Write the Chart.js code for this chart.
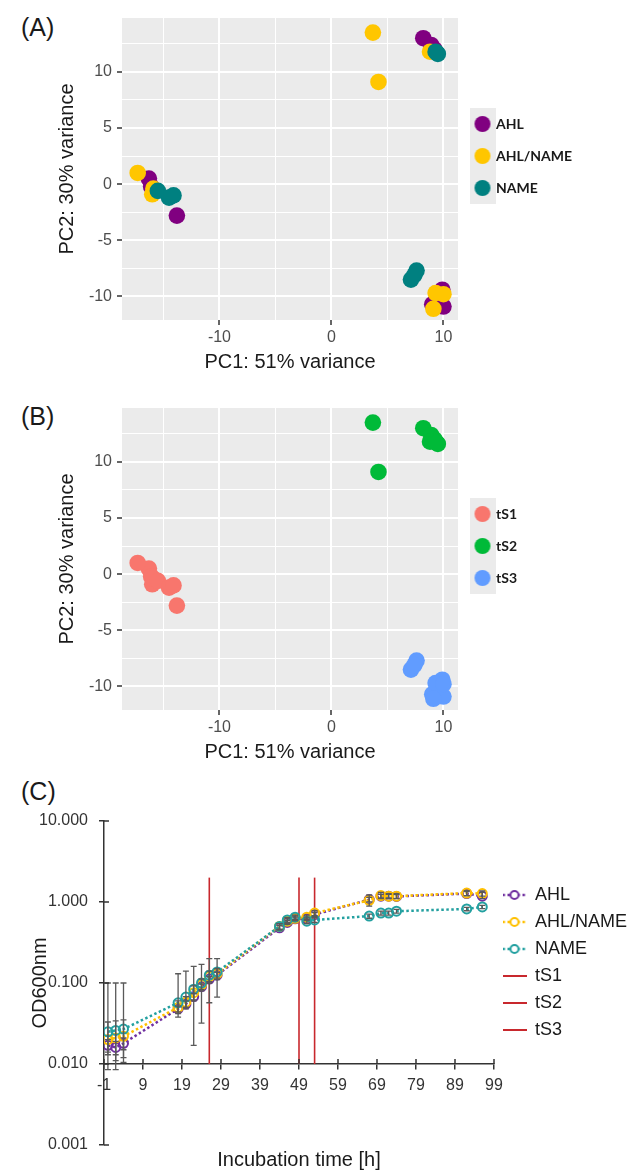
<!DOCTYPE html>
<html>
<head>
<meta charset="utf-8">
<title>PCA and growth curves</title>
<script src="https://cdn.jsdelivr.net/npm/chart.js@4.4.1/dist/chart.umd.min.js"></script>
<style>
  body { margin: 0; background: #fff; width: 632px; height: 1176px; position: relative; overflow: hidden; }
  canvas { position: absolute; left: 0; }
  .panel { position: absolute; left: 21px; font: 25px/25px "Liberation Sans", Arial, sans-serif; color: #1a1a1a; }
</style>
</head>
<body>
<div class="panel" style="top:15px">(A)</div>
<div class="panel" style="top:404px">(B)</div>
<div class="panel" style="top:779px">(C)</div>
<canvas id="pcaGroup" width="632" height="378" style="top:0"></canvas>
<canvas id="pcaStage" width="632" height="378" style="top:390px"></canvas>
<canvas id="growth" width="660" height="416" style="top:760px"></canvas>
<script>
// PCA scores, one entry per sample (3 replicates x tS1, tS2, tS3)
var pc1AHL  = [-16.3, -16.1, -13.8, 8.2, 8.9, 9.2, 9.9, 9.0, 10.0];
var pc2AHL  = [0.5, -0.2, -2.8, 13.0, 12.4, 12.0, -9.4, -10.7, -10.9];
var pc1MIX  = [-17.3, -16.0, -15.9, 3.7, 4.2, 8.8, 9.3, 10.0, 9.1];
var pc2MIX  = [1.0, -0.9, -0.4, 13.5, 9.1, 11.8, -9.7, -9.8, -11.1];
var pc1NAME = [-15.5, -14.5, -14.1, 9.5, 9.3, 9.4, 7.1, 7.6, 7.4];
var pc2NAME = [-0.6, -1.2, -1.0, 11.6, 11.8, 11.7, -8.5, -7.7, -8.1];
var sampleStage = ['tS1', 'tS1', 'tS1', 'tS2', 'tS2', 'tS2', 'tS3', 'tS3', 'tS3'];

var groups = ['AHL', 'AHL/NAME', 'NAME'];
var stages = ['tS1', 'tS2', 'tS3'];

var pcaXGrid = [-15, -10, -5, 0, 5, 10];
var pcaXLabels = [-10, 0, 10];
var pcaYGrid = [-10, -7.5, -5, -2.5, 0, 2.5, 5, 7.5, 10, 12.5];
var pcaYLabels = [-10, -5, 0, 5, 10];

// growth curves, OD600 per time point
var timeH   = [0, 2, 4, 18, 20, 22, 24, 26, 28, 44, 46, 48, 51, 53, 67, 70, 72, 74, 92, 96];
var odAHL   = [0.017, 0.016, 0.018, 0.048, 0.055, 0.068, 0.090, 0.112, 0.125, 0.48, 0.56, 0.62, 0.62, 0.70, 1.07, 1.18, 1.18, 1.17, 1.27, 1.18];
var loAHL   = [0.014, 0.013, 0.015, 0.044, 0.050, 0.062, 0.083, 0.104, 0.115, 0.45, 0.53, 0.59, 0.59, 0.66, 1.00, 1.12, 1.12, 1.11, 1.20, 1.10];
var hiAHL   = [0.020, 0.019, 0.021, 0.052, 0.060, 0.074, 0.097, 0.120, 0.135, 0.51, 0.59, 0.65, 0.65, 0.74, 1.14, 1.24, 1.24, 1.23, 1.34, 1.32];
var odMIX   = [0.020, 0.021, 0.022, 0.050, 0.058, 0.076, 0.095, 0.120, 0.130, 0.50, 0.58, 0.63, 0.65, 0.73, 1.05, 1.20, 1.18, 1.18, 1.29, 1.27];
var loMIX   = [0.013, 0.011, 0.012, 0.042, 0.050, 0.060, 0.080, 0.100, 0.110, 0.46, 0.54, 0.59, 0.61, 0.68, 0.89, 1.10, 1.10, 1.10, 1.20, 1.18];
var hiMIX   = [0.033, 0.034, 0.035, 0.060, 0.068, 0.092, 0.112, 0.140, 0.150, 0.54, 0.62, 0.67, 0.69, 0.78, 1.22, 1.31, 1.27, 1.27, 1.38, 1.37];
var odNAME  = [0.025, 0.026, 0.027, 0.057, 0.067, 0.084, 0.100, 0.125, 0.137, 0.50, 0.60, 0.65, 0.58, 0.60, 0.67, 0.73, 0.73, 0.77, 0.82, 0.87];
var loNAME  = [0.0085, 0.0085, 0.0105, 0.038, 0.048, 0.017, 0.032, 0.057, 0.067, 0.46, 0.56, 0.61, 0.54, 0.56, 0.63, 0.69, 0.69, 0.73, 0.78, 0.83];
var hiNAME  = [0.100, 0.100, 0.100, 0.130, 0.140, 0.160, 0.170, 0.200, 0.200, 0.54, 0.64, 0.69, 0.62, 0.64, 0.71, 0.77, 0.77, 0.81, 0.86, 0.91];

var stageTimes = [26, 49, 53];   // sampling points tS1..tS3
var stageLineTop = 2;
var xAxisAt = 0.01;              // x axis crosses the log axis here
var xTicksC = [-1, 9, 19, 29, 39, 49, 59, 69, 79, 89, 99];
var yTicksC = [0.001, 0.01, 0.1, 1, 10];

var groupColors = ['#800080', '#ffc600', '#008080'];
var stageColors = ['#f8766d', '#00ba38', '#619cff'];
var curveColors = ['#7030a0', '#ffc000', '#23a0a0'];

Chart.defaults.font.family = "'Liberation Sans', Arial, sans-serif";

// grey panel background behind the plotting area (ggplot look)
var panelBg = {
  id: 'panelBg',
  beforeDraw: function(chart, args, opts) {
    if (!opts.color) return;
    var a = chart.chartArea, ctx = chart.ctx;
    ctx.save();
    ctx.fillStyle = opts.color;
    ctx.fillRect(a.left, a.top, a.right - a.left, a.bottom - a.top);
    ctx.restore();
  }
};

function keyCanvas(w, h, draw) {
  var c = document.createElement('canvas');
  c.width = w; c.height = h;
  draw(c.getContext('2d'), w, h);
  return c;
}

function legendWidth(texts, font, boxW, pad) {
  var ctx = document.createElement('canvas').getContext('2d');
  ctx.font = (font.weight || 'normal') + ' ' + font.size + 'px ' + font.family;
  var w = Math.max.apply(null, texts.map(function(t) { return ctx.measureText(t).width; }));
  return pad + boxW + font.size / 2 + w + 10;
}

function withKeys(images) {
  return function(chart) {
    return Chart.defaults.plugins.legend.labels.generateLabels(chart).map(function(item) {
      item.pointStyle = images[item.datasetIndex];
      return item;
    });
  };
}

function byIndex(a, b) { return a.datasetIndex - b.datasetIndex; }

function isMajor(list) {
  return function(c) { return c.tick && list.indexOf(c.tick.value) >= 0; };
}

function pcaChart(id, datasets, colors) {
  var legendFont = { family: 'Lato', size: 14, weight: 'bold' };
  var legW = legendWidth(datasets.map(function(d) { return d.label; }), legendFont, 14, 17);
  var keys = colors.map(function(col) {
    return keyCanvas(26, 32, function(ctx, w, h) {
      ctx.fillStyle = '#ebebeb';
      ctx.fillRect(0, 0, w, h);
      ctx.fillStyle = col;
      ctx.beginPath(); ctx.arc(w / 2, h / 2, 8, 0, Math.PI * 2); ctx.fill();
    });
  });
  var xMajor = isMajor(pcaXLabels), yMajor = isMajor(pcaYLabels);

  return new Chart(document.getElementById(id), {
    type: 'scatter',
    data: { datasets: datasets },
    options: {
      responsive: false,
      animation: false,
      events: [],
      layout: { padding: { top: 18, left: 0, bottom: 0, right: 632 - 458 - legW } },
      elements: { point: { radius: 8.3, borderWidth: 0 } },
      plugins: {
        panelBg: { color: '#ebebeb' },
        tooltip: { enabled: false },
        legend: {
          position: 'right',
          align: 'start',
          fullSize: false,
          title: { display: true, text: '', font: { size: 10 }, padding: { top: 69, bottom: 0 } },
          labels: {
            usePointStyle: true,
            pointStyleWidth: 13,
            padding: 18,
            color: '#1a1a1a',
            font: legendFont,
            generateLabels: withKeys(keys),
            sort: byIndex
          }
        }
      },
      scales: {
        x: {
          type: 'linear', min: -18.7, max: 11.3,
          afterBuildTicks: function(s) { s.ticks = pcaXGrid.map(function(v) { return { value: v }; }); },
          afterFit: function(s) { s.height = 58; },
          border: { display: false },
          grid: {
            color: '#ffffff',
            lineWidth: function(c) { return xMajor(c) ? 2 : 1; },
            tickColor: function(c) { return xMajor(c) ? '#333333' : 'rgba(0,0,0,0)'; },
            tickWidth: 1.5, tickLength: 5
          },
          ticks: {
            autoSkip: false, maxRotation: 0, padding: 3, color: '#4d4d4d', font: { size: 16 },
            callback: function(v) { return pcaXLabels.indexOf(v) >= 0 ? String(v) : ''; }
          },
          title: { display: true, text: 'PC1: 51% variance', color: '#1a1a1a', font: { size: 20 }, padding: { top: 0, bottom: 4 } }
        },
        y: {
          type: 'linear', min: -12.1, max: 14.8,
          afterBuildTicks: function(s) { s.ticks = pcaYGrid.map(function(v) { return { value: v }; }); },
          afterFit: function(s) { s.width = 122; },
          border: { display: false },
          grid: {
            color: '#ffffff',
            lineWidth: function(c) { return yMajor(c) ? 2 : 1; },
            tickColor: function(c) { return yMajor(c) ? '#333333' : 'rgba(0,0,0,0)'; },
            tickWidth: 1.5, tickLength: 5
          },
          ticks: {
            autoSkip: false, padding: 5, color: '#4d4d4d', font: { size: 16 },
            callback: function(v) { return pcaYLabels.indexOf(v) >= 0 ? String(v) : ''; }
          },
          title: { display: true, text: 'PC2: 30% variance', color: '#1a1a1a', font: { size: 20 }, padding: { top: 55, bottom: 0 } }
        }
      }
    },
    plugins: [panelBg]
  });
}

// (A) coloured by treatment
var pc1 = [pc1AHL, pc1MIX, pc1NAME];
var pc2 = [pc2AHL, pc2MIX, pc2NAME];
var dsA = groups.map(function(g, k) {
  return {
    label: g,
    order: 3 - k,
    data: pc1[k].map(function(x, i) { return { x: x, y: pc2[k][i] }; }),
    backgroundColor: groupColors[k]
  };
});
pcaChart('pcaGroup', dsA, groupColors);

// (B) same samples coloured by sampling time
var dsB = stages.map(function(s, k) {
  var pts = [];
  groups.forEach(function(g, j) {
    pc1[j].forEach(function(x, i) {
      if (sampleStage[i] === s) pts.push({ x: x, y: pc2[j][i] });
    });
  });
  return { label: s, data: pts, backgroundColor: stageColors[k] };
});
pcaChart('pcaStage', dsB, stageColors);

// (C) growth curves with error bars and sampling lines
var odC = [odAHL, odMIX, odNAME];
var loC = [loAHL, loMIX, loNAME];
var hiC = [hiAHL, hiMIX, hiNAME];

var dsC = groups.map(function(g, k) {
  return {
    label: g,
    order: 3 - k,
    data: timeH.map(function(t, i) { return { x: t, y: odC[k][i] }; }),
    errLo: loC[k],
    errHi: hiC[k],
    showLine: true,
    borderColor: curveColors[k],
    borderWidth: 2.5,
    borderDash: [2.5, 2.5],
    pointRadius: 4.5,
    pointBorderWidth: 2,
    pointBorderColor: curveColors[k],
    pointBackgroundColor: 'rgba(255,255,255,0)'
  };
}).concat(stages.map(function(s, k) {
  return {
    label: s,
    order: 4,
    data: [{ x: stageTimes[k], y: xAxisAt }, { x: stageTimes[k], y: stageLineTop }],
    showLine: true,
    borderColor: '#c8282d',
    borderWidth: 1.6,
    pointRadius: 0
  };
}));

var keysC = curveColors.map(function(col) {
  return keyCanvas(24, 12, function(ctx, w, h) {
    ctx.strokeStyle = col;
    ctx.lineWidth = 2.5;
    ctx.setLineDash([2.5, 2.5]);
    ctx.beginPath(); ctx.moveTo(0, h / 2); ctx.lineTo(w, h / 2); ctx.stroke();
    ctx.setLineDash([]);
    ctx.lineWidth = 2;
    ctx.fillStyle = '#fff';
    ctx.beginPath(); ctx.arc(w / 2, h / 2, 4, 0, Math.PI * 2); ctx.fill(); ctx.stroke();
  });
}).concat(stages.map(function() {
  return keyCanvas(24, 4, function(ctx, w, h) {
    ctx.fillStyle = '#c8282d';
    ctx.fillRect(0, 1, w, 2);
  });
}));

var errorBars = {
  id: 'errorBars',
  afterDatasetsDraw: function(chart) {
    var ctx = chart.ctx, x = chart.scales.x, y = chart.scales.y;
    ctx.save();
    ctx.strokeStyle = '#595959';
    ctx.lineWidth = 1.3;
    chart.data.datasets.forEach(function(ds) {
      if (!ds.errLo) return;
      ds.data.forEach(function(p, i) {
        var px = x.getPixelForValue(p.x);
        var y0 = y.getPixelForValue(ds.errLo[i]), y1 = y.getPixelForValue(ds.errHi[i]);
        ctx.beginPath();
        ctx.moveTo(px, y0); ctx.lineTo(px, y1);
        ctx.moveTo(px - 3, y0); ctx.lineTo(px + 3, y0);
        ctx.moveTo(px - 3, y1); ctx.lineTo(px + 3, y1);
        ctx.stroke();
      });
    });
    // inner half of the crossing tick marks
    var a = chart.chartArea, yAxis = y.getPixelForValue(xAxisAt);
    ctx.strokeStyle = '#333333';
    ctx.lineWidth = 1.5;
    ctx.beginPath();
    x.ticks.forEach(function(t) {
      var px = x.getPixelForValue(t.value);
      ctx.moveTo(px, yAxis); ctx.lineTo(px, yAxis - 5);
    });
    y.ticks.forEach(function(t) {
      var py = y.getPixelForValue(t.value);
      ctx.moveTo(a.left, py); ctx.lineTo(a.left + 5, py);
    });
    ctx.stroke();
    ctx.restore();
  }
};

var legendFontC = { family: "'Liberation Sans'", size: 18 };
var legWC = legendWidth(dsC.map(function(d) { return d.label; }), legendFontC, 24, 9);

new Chart(document.getElementById('growth'), {
  type: 'scatter',
  data: { datasets: dsC },
  options: {
    responsive: false,
    animation: false,
    events: [],
    layout: { padding: { top: 61, left: 0, bottom: 0, right: 660 - 493 - legWC } },
    plugins: {
      tooltip: { enabled: false },
      legend: {
        position: 'right',
        align: 'start',
        fullSize: false,
        title: { display: true, text: '', font: { size: 10 }, padding: { top: 44, bottom: 0 } },
        labels: {
          usePointStyle: true,
          pointStyleWidth: 23,
          padding: 9,
          color: '#1a1a1a',
          font: legendFontC,
          generateLabels: withKeys(keysC),
          sort: byIndex
        }
      }
    },
    scales: {
      x: {
        type: 'linear', min: -1, max: 99,
        position: { y: xAxisAt },
        afterBuildTicks: function(s) { s.ticks = xTicksC.map(function(v) { return { value: v }; }); },
        afterFit: function(s) { s.height = 0; },
        border: { color: '#333333', width: 1.5 },
        grid: { drawOnChartArea: false, color: '#333333', lineWidth: 1.5, tickLength: 5 },
        ticks: { autoSkip: false, maxRotation: 0, padding: 7, color: '#333333', font: { size: 16 } }
      },
      x2: {
        type: 'linear', min: -1, max: 99, position: 'bottom',
        afterFit: function(s) { s.height = 31; },
        border: { display: false },
        grid: { display: false },
        ticks: { display: false },
        title: { display: true, text: 'Incubation time [h]', color: '#1a1a1a', font: { size: 20 }, padding: { top: 0, bottom: 4 } }
      },
      y: {
        type: 'logarithmic', min: 0.001, max: 10,
        afterBuildTicks: function(s) { s.ticks = yTicksC.map(function(v) { return { value: v }; }); },
        afterFit: function(s) { s.width = 104; },
        border: { color: '#333333', width: 1.5 },
        grid: { drawOnChartArea: false, color: '#333333', lineWidth: 1.5, tickLength: 5 },
        ticks: {
          padding: 11, color: '#333333', font: { size: 16 },
          callback: function(v) { return Number(v).toFixed(3); }
        },
        title: { display: true, text: 'OD600nm', color: '#1a1a1a', font: { size: 20 }, padding: { top: 28, bottom: 0 } }
      }
    }
  },
  plugins: [errorBars]
});
</script>
</body>
</html>
